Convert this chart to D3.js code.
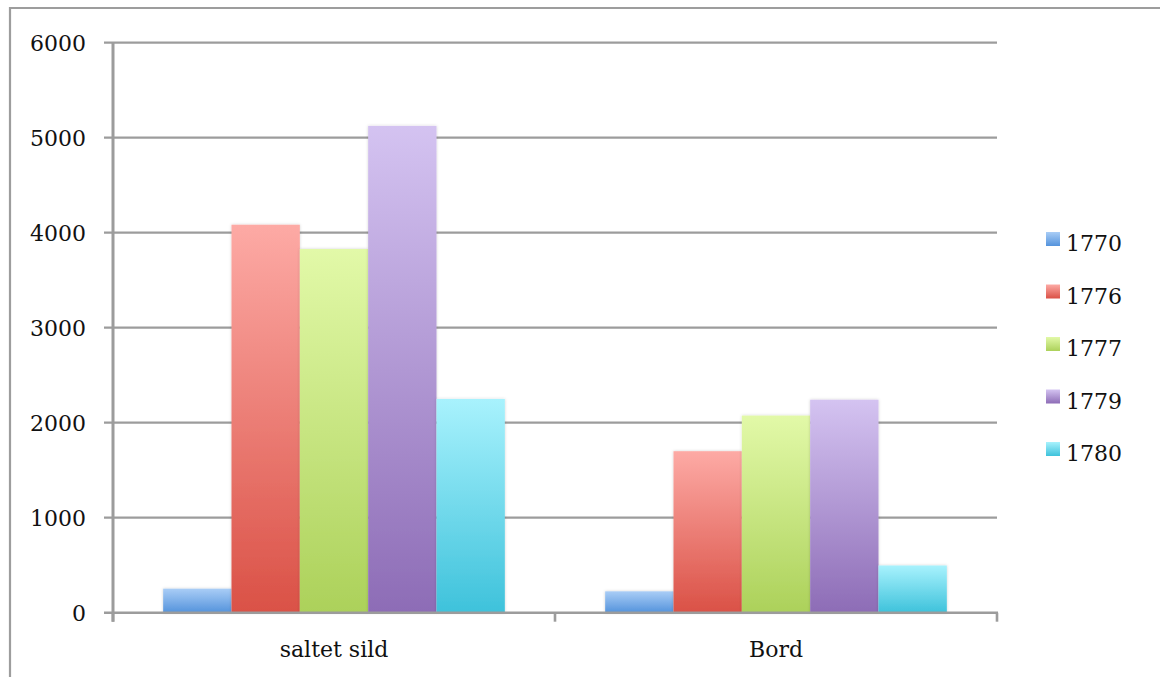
<!DOCTYPE html>
<html>
<head>
<meta charset="utf-8">
<script src="https://cdn.jsdelivr.net/npm/d3@7"></script>
<style>
  html, body { margin: 0; padding: 0; background: #fff; }
  svg { display: block; }
  text { font-family: "DejaVu Serif", serif; fill: #111; }
</style>
</head>
<body>
<svg id="chart" width="1160" height="677"></svg>
<script>
// Export volumes by commodity and year
const categories = ["saltet sild", "Bord"];
const years = ["1770", "1776", "1777", "1779", "1780"];
const values1770 = [253, 225];
const values1776 = [4084, 1700];
const values1777 = [3828, 2075];
const values1779 = [5124, 2242];
const values1780 = [2250, 497];
const yTicks = [0, 1000, 2000, 3000, 4000, 5000, 6000];

const seriesValues = [values1770, values1776, values1777, values1779, values1780];

// Gradient stops per series (top, bottom)
const palette = [
  ["#a9cdf6", "#5493dc"],
  ["#fdaaa5", "#da5146"],
  ["#e2f9a8", "#acd15a"],
  ["#d4c3f1", "#8d6cb6"],
  ["#a8f2fd", "#3ec2db"]
];

const svg = d3.select("#chart");
const plot = { left: 113, right: 997, top: 42.7, bottom: 612.7 };

// Outer frame
svg.append("path")
  .attr("d", "M10,700 L10,8 L1170,8")
  .attr("fill", "none")
  .attr("stroke", "#9d9d9d")
  .attr("stroke-width", 2.2);

const x0 = d3.scaleBand().domain(categories).range([plot.left, plot.right]).padding(0);
const y = d3.scaleLinear().domain([0, 6000]).range([plot.bottom, plot.top]);

// Bars of a group fill the central 77.3% of each category band
const groupW = x0.bandwidth() * 0.773;
const groupOff = (x0.bandwidth() - groupW) / 2;
const xb = d3.scaleBand().domain(years).range([groupOff, groupOff + groupW]).padding(0);

const defs = svg.append("defs");
palette.forEach((c, i) => {
  const g = defs.append("linearGradient")
    .attr("id", "grad" + i)
    .attr("x1", 0).attr("y1", 0).attr("x2", 0).attr("y2", 1);
  g.append("stop").attr("offset", "0%").attr("stop-color", c[0]);
  g.append("stop").attr("offset", "100%").attr("stop-color", c[1]);
});
const shadow = defs.append("filter").attr("id", "shadow")
  .attr("x", "-20%").attr("y", "-20%").attr("width", "140%").attr("height", "140%");
shadow.append("feDropShadow").attr("dx", 0).attr("dy", 0).attr("stdDeviation", 1.5)
  .attr("flood-color", "#000").attr("flood-opacity", 0.18);

// Horizontal gridlines
svg.append("g").selectAll("line")
  .data(yTicks.filter(d => d > 0))
  .join("line")
  .attr("x1", plot.left - 9).attr("x2", plot.right)
  .attr("y1", d => y(d)).attr("y2", d => y(d))
  .attr("stroke", "#9c9c9c").attr("stroke-width", 2.2);

// Y axis labels
svg.append("g").selectAll("text")
  .data(yTicks)
  .join("text")
  .attr("x", 86)
  .attr("y", d => y(d))
  .attr("dy", "0.36em")
  .attr("text-anchor", "end")
  .attr("font-size", 22)
  .text(d => d);

// Bars
const groups = svg.append("g").selectAll("g")
  .data(categories)
  .join("g")
  .attr("transform", d => `translate(${x0(d)},0)`);

groups.selectAll("rect")
  .data((d, ci) => years.map((yr, si) => ({ yr, si, v: seriesValues[si][ci] })))
  .join("rect")
  .attr("x", d => xb(d.yr))
  .attr("width", xb.bandwidth())
  .attr("y", d => y(d.v))
  .attr("height", d => y(0) - y(d.v))
  .attr("fill", d => `url(#grad${d.si})`)
  .attr("filter", "url(#shadow)");

// Axis lines
svg.append("line")
  .attr("x1", plot.left).attr("x2", plot.left)
  .attr("y1", plot.top).attr("y2", plot.bottom + 9)
  .attr("stroke", "#9c9c9c").attr("stroke-width", 3);
svg.append("line")
  .attr("x1", plot.left - 9).attr("x2", plot.right + 1)
  .attr("y1", plot.bottom).attr("y2", plot.bottom)
  .attr("stroke", "#9c9c9c").attr("stroke-width", 2.6);

// Category separator ticks
const sepX = [plot.left, x0(categories[1]), plot.right];
svg.append("g").selectAll("line")
  .data(sepX)
  .join("line")
  .attr("x1", d => d).attr("x2", d => d)
  .attr("y1", plot.bottom).attr("y2", plot.bottom + 9)
  .attr("stroke", "#9c9c9c").attr("stroke-width", 2.6);

// Category labels
svg.append("g").selectAll("text")
  .data(categories)
  .join("text")
  .attr("x", d => x0(d) + x0.bandwidth() / 2)
  .attr("y", 657)
  .attr("text-anchor", "middle")
  .attr("font-size", 22)
  .text(d => d);

// Legend
const legend = svg.append("g").selectAll("g")
  .data(years)
  .join("g")
  .attr("transform", (d, i) => `translate(1046, ${239 + i * 52.5})`);
legend.append("rect")
  .attr("x", 0).attr("y", -7).attr("width", 14).attr("height", 14)
  .attr("fill", (d, i) => `url(#grad${i})`);
legend.append("text")
  .attr("x", 20).attr("y", 0).attr("dy", "0.55em")
  .attr("font-size", 22)
  .text(d => d);
</script>
</body>
</html>
